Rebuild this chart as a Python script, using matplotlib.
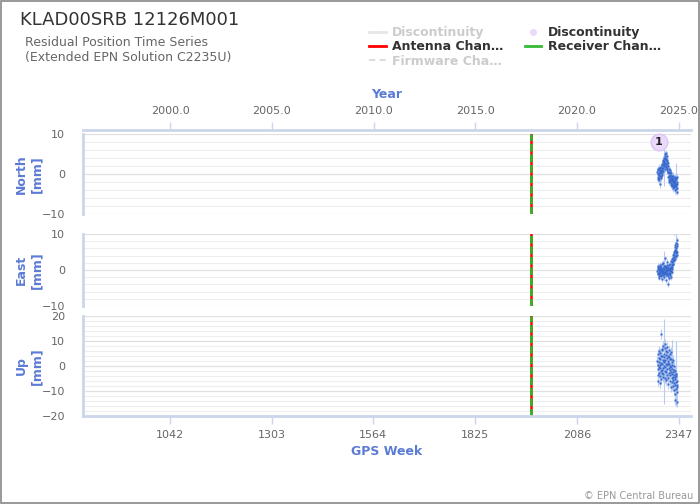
import numpy as np
import matplotlib.pyplot as plt
from matplotlib.lines import Line2D
from matplotlib.patches import Rectangle

# Данные: недели GPS и остатки (мм)
week_start = 2293.0
week_step = 0.475

north = [0.5, -0.8, 1.2, 0.1, -1.3, 0.9, -0.2, 1.6, -0.9, 0.3,
         -1.6, 0.8, 1.4, -0.4, 0.2, -2.6, 1.0, -0.6, 0.7, 1.8,
         -1.1, 0.4, 2.2, -0.3,
         1.5, 0.2, 2.6, 1.1, 3.0, 0.8, 2.2, 3.6, 1.4, 2.9,
         4.1, 1.9, 3.3, 2.5, 4.6, 1.2, 3.8, 2.7, 4.9, 2.0,
         3.4, 5.2, 2.6, 4.0, 1.8, 3.1, 4.4, 2.3, 0.9, 3.5,
         1.6, 2.8, 0.4, 1.9,
         0.6, -0.7, 1.3, -1.5, 0.2, -0.4, -2.0, 0.9, -1.1, -0.2,
         -1.8, 0.5, -0.9, -2.3, -0.5, 0.3, -1.4, -2.7,
         -1.2, -2.4, -0.6, -3.1, -1.8, -0.9, -2.7, -1.5, -3.6, -2.1,
         -0.4, -2.9, -1.7, -3.3, -1.0, -2.2, -4.1, -1.6, -2.6, -0.8,
         -3.0, -2.0, -1.3, -3.8, -2.4, -1.1, -2.9, -1.9, -3.4, -0.7,
         -2.5, -4.4]

east = [-0.3, 0.8, -1.2, 0.2, -0.7, 1.1, -1.6, -0.1, 0.5, -0.9,
        -2.1, 0.3, -0.5, 1.4, -1.0, -0.2, 0.7, -1.8, -0.4, 0.9,
        -1.3, 0.1, -0.6, 1.6, -2.4, -0.8, 0.4, -0.1, -1.5, 0.6,
        1.9, -0.7, -0.3, 0.2, -1.1, 1.2, -0.5, -2.0, 0.8, -0.9,
        0.0, 3.2, -0.6, 1.0, -1.4, 0.5, -0.2, -2.9, 0.7, -0.8,
        1.5, -1.2, 0.3, -0.4, 2.3, -1.7, -0.1, 0.9, -3.8, 0.4,
        -0.7, 1.3, -1.0, 0.2, -2.2, 0.6, -0.3, 1.8, -1.5, 0.1,
        -0.9, 2.6, -0.4, 0.8, -1.9, 0.5,
        0.2, 1.5, -0.5, 2.1, 0.9, 3.0, 1.6, 2.5, 4.1, 1.8,
        3.4, 5.0, 2.7, 4.4, 11.2, 3.6, 5.6, 4.0, 6.3, 3.1,
        5.2, 7.0, 4.6, 6.1, 3.8, 7.6, 5.4, 4.2, 8.3, 6.6,
        5.0, 7.2]

up = [2.1, -3.5, 4.8, -1.2, 0.6, -5.8, 3.3, -0.4, 6.1, -2.7,
      1.5, -6.9, 2.8, -0.9, 5.2, -4.1, 0.3, 3.9, -2.0, 12.8,
      -5.1, 1.1, 7.0, -1.6,
      4.2, -2.9, 0.8, 6.6, -4.4, 2.3, -0.6, 8.1, -3.2, 3.6,
      0.1, 2.0, 5.0, 1.7, -1.8, 7.4, -4.9, 2.5, 9.0, -0.3,
      4.6, -2.4, 6.0, 1.0, -5.5, 3.1, 7.8, -1.1, 0.5, 5.6,
      -3.7, 2.0, -7.2, 4.0,
      1.4, -4.6, 3.8, -0.8, 6.4, -2.6, 0.9, -6.0, 2.7, -1.5,
      4.9, -3.4, 0.2, -8.3, 3.0, -0.5, 5.5, -2.2,
      -1.0, -4.8, 1.8, -3.0, -6.5, 0.4, -2.4, -8.0, -4.2, 2.6,
      -5.6, -1.6, -9.5, -3.6, 0.0, -6.8, -11.0, -4.5, -2.0, -7.6,
      -13.4, -5.2, -3.1, -9.0, -6.2, -3.0, -4.0, -7.4, -10.3, -5.8,
      -14.2, -8.5]

# Погрешности: базовая + отдельные длинные
north_err_base, east_err_base, up_err_base = 0.8, 0.8, 2.0
north_err_big = {35: 5.0, 101: 3.9}
east_err_big = {35: 4.0, 101: 4.5, 90: 1.5}
up_err_big = {35: 17.0, 101: 13.0, 81: 10.0}

event_week = 1968          # смена антенны и приёмника
disc_week, disc_north = 2297, 8.0

week_ticks = [1042, 1303, 1564, 1825, 2086, 2347]
year_ticks = [2000, 2005, 2010, 2015, 2020, 2025]
xlim = (819, 2379)


def week_to_year(w):
    return 1980.0137 + np.asarray(w) * 7 / 365.25


BLUE = '#3366cc'
ERR = '#b8cbf2'
AXIS = '#ccd6eb'
LABEL = '#5b7bd5'
TICK = '#666666'

fig = plt.figure(figsize=(7, 5.04), dpi=100)


def rect(l, t, r, b):
    return [l / 700, 1 - b / 504, (r - l) / 700, (b - t) / 504]


panels = [
    ("North\n[mm]", north, north_err_base, north_err_big, (83, 134, 691, 214), (-10, 10)),
    ("East\n[mm]", east, east_err_base, east_err_big, (83, 234, 691, 306), (-10, 10)),
    ("Up\n[mm]", up, up_err_base, up_err_big, (83, 316, 691, 416), (-20, 20)),
]

axes = []
for label, vals, base, big, box, ylim in panels:
    ax = fig.add_axes(rect(*box))
    vals = np.array(vals)
    weeks = week_start + np.arange(len(vals)) * week_step
    err = np.full(len(vals), base)
    for i, s in big.items():
        err[i] = s
    ax.set_xlim(*xlim)
    ax.set_ylim(*ylim)
    ax.set_yticks([ylim[0], 0, ylim[1]] if ylim[1] == 10 else [-20, -10, 0, 10, 20])
    ax.set_yticks(np.arange(ylim[0], ylim[1] + 0.1, 2), minor=True)
    ax.grid(True, axis='y', which='major', color='#e0e0e0', lw=0.9)
    ax.grid(True, axis='y', which='minor', color='#eeeeee', lw=0.8)
    ax.set_axisbelow(True)
    for s in ['top', 'right', 'bottom']:
        ax.spines[s].set_visible(False)
    ax.spines['left'].set_color(AXIS)
    ax.spines['left'].set_linewidth(2)
    ax.tick_params(axis='y', which='both', length=0, pad=13, labelsize=8, labelcolor=TICK)
    ax.tick_params(axis='x', which='both', bottom=False, labelbottom=False)
    ax.set_ylabel(label, color=LABEL, fontsize=9, fontweight='bold', va='center', ha='center')
    ax.yaxis.set_label_coords(-0.089, 0.5)

    # вертикальная линия: смена антенны (красная) и приёмника (зелёная)
    ax.axvline(event_week, color='#ff0000', lw=1.8, zorder=2)
    ax.axvline(event_week, color='#22bb22', lw=1.8, dashes=(3, 1.2), zorder=2)

    ax.errorbar(weeks, vals, yerr=err, fmt='none', ecolor=ERR, elinewidth=0.8, zorder=3)
    ax.plot(weeks, vals, 's', ms=2, color=BLUE, mec='none', zorder=4)
    axes.append(ax)

ax_n, ax_e, ax_u = axes

# маркер разрыва
ax_n.plot(disc_week, disc_north, 'o', ms=12, color='#ead9fa', mec='#dcc5f5', mew=1, zorder=5, clip_on=False)
ax_n.text(disc_week, disc_north, "1", ha='center', va='center', fontsize=8, fontweight='bold',
          color='#222222', zorder=6)

# нижняя ось GPS Week
ax_u.spines['bottom'].set_visible(True)
ax_u.spines['bottom'].set_color(AXIS)
ax_u.spines['bottom'].set_linewidth(2)
ax_u.set_xticks(week_ticks)
ax_u.tick_params(axis='x', bottom=True, labelbottom=True, length=6, width=1, color=AXIS,
                 labelsize=8, labelcolor=TICK, pad=4)
ax_u.set_xlabel("GPS Week", color=LABEL, fontsize=9, fontweight='bold', labelpad=4)

# верхняя ось Year
ax_y = fig.add_axes(rect(83, 130, 691, 131))
ax_y.set_facecolor('none')
for s in ['left', 'right', 'bottom']:
    ax_y.spines[s].set_visible(False)
ax_y.spines['top'].set_color(AXIS)
ax_y.spines['top'].set_linewidth(2)
ax_y.set_xlim(*week_to_year(xlim))
ax_y.set_yticks([])
ax_y.set_xticks(year_ticks)
ax_y.set_xticklabels([f"{y:.1f}" for y in year_ticks])
ax_y.xaxis.set_ticks_position('top')
ax_y.xaxis.set_label_position('top')
ax_y.tick_params(axis='x', top=True, bottom=False, labeltop=True, labelbottom=False,
                 length=6, width=1, color=AXIS, labelsize=8, labelcolor=TICK, pad=4)
ax_y.set_xlabel("Year", color=LABEL, fontsize=9, fontweight='bold', labelpad=6)

# заголовки
fig.text(20 / 700, 1 - 25 / 504, "KLAD00SRB 12126M001", fontsize=13, color='#333333', va='baseline')
fig.text(25 / 700, 1 - 46 / 504, "Residual Position Time Series", fontsize=9, color='#666666', va='baseline')
fig.text(25 / 700, 1 - 61 / 504, "(Extended EPN Solution C2235U)", fontsize=9, color='#666666', va='baseline')
fig.text(693 / 700, 1 - 499 / 504, "© EPN Central Bureau", fontsize=7, color='#999999', ha='right', va='baseline')

# легенда
handles = [
    Line2D([], [], color='#e6e6e6', lw=2),
    Line2D([], [], color='#ff0000', lw=2),
    Line2D([], [], color='#dddddd', lw=1.5, ls=(0, (3, 2))),
    Line2D([], [], ls='none', marker='o', ms=4, color='#ead9fa', mec='#ead9fa'),
    Line2D([], [], color='#33bb33', lw=2),
]
labels = ["Discontinuity", "Antenna Chan…", "Firmware Cha…", "Discontinuity", "Receiver Chan…"]
leg = fig.legend(handles, labels, ncol=2, loc='upper left', bbox_to_anchor=(358 / 700, 1 - 15 / 504),
                 frameon=False, handlelength=1.3, handletextpad=0.5, columnspacing=1.75,
                 labelspacing=0.1, prop={'weight': 'bold', 'size': 9})
for t, c in zip(leg.get_texts(), ['#cccccc', '#333333', '#cccccc', '#333333', '#333333']):
    t.set_color(c)

# рамка вокруг рисунка
fig.patches.append(Rectangle((0.001, 0.001), 0.998, 0.998, transform=fig.transFigure,
                             fill=False, edgecolor='#888888', lw=1.2))

fig.savefig("out.png", dpi=100)
